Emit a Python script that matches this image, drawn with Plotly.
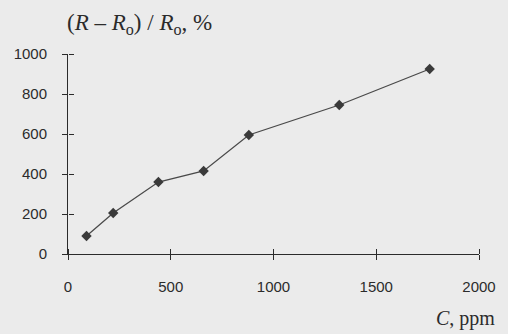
import plotly.graph_objects as go

conc_ppm = [90, 220, 440, 660, 880, 1320, 1760]
response_pct = [90, 205, 360, 415, 595, 745, 925]
x_ticks = [0, 500, 1000, 1500, 2000]
y_ticks = [0, 200, 400, 600, 800, 1000]

ink = "#2b2b2b"
bg = "#ebebeb"

fig = go.Figure()
fig.add_trace(go.Scatter(
    x=conc_ppm, y=response_pct, mode="lines+markers",
    line=dict(color="#4a4a4a", width=1.3),
    marker=dict(symbol="diamond", size=8, color="#3a3a3a"),
    showlegend=False, hoverinfo="skip"))
fig.add_trace(go.Scatter(x=conc_ppm, y=response_pct, xaxis="x2", yaxis="y2",
                         mode="markers", marker=dict(opacity=0),
                         showlegend=False, hoverinfo="skip"))

tickfont = dict(family="Liberation Sans, Arial", size=15, color=ink)
fig.update_layout(
    width=508, height=334,
    margin=dict(l=68, r=19, t=54, b=80),
    paper_bgcolor=bg, plot_bgcolor=bg,
    xaxis=dict(range=[0, 2000], tickvals=x_ticks, ticks="outside", ticklen=5,
               tickcolor=ink, showline=True, linecolor=ink, linewidth=1,
               showgrid=False, zeroline=False, tickfont=tickfont,
               ticklabelstandoff=14),
    yaxis=dict(range=[0, 1000], tickvals=y_ticks, ticks="outside", ticklen=5,
               tickcolor=ink, showline=True, linecolor=ink, linewidth=1,
               showgrid=False, zeroline=False, tickfont=tickfont,
               ticklabelstandoff=12),
    xaxis2=dict(range=[0, 2000], tickvals=x_ticks, ticks="outside", ticklen=5,
                tickcolor=ink, showticklabels=False, showgrid=False, showline=False,
                zeroline=False, overlaying="x", anchor="free", position=0, side="top"),
    yaxis2=dict(range=[0, 1000], tickvals=y_ticks, ticks="outside", ticklen=5,
                tickcolor=ink, showticklabels=False, showgrid=False, showline=False,
                zeroline=False, overlaying="y", anchor="free", position=0, side="right"),
    annotations=[
        dict(text="(<i>R</i> – <i>R</i><sub>o</sub>) / <i>R</i><sub>o</sub>, %",
             xref="paper", yref="paper", x=0.175, y=1.0, yshift=30,
             xanchor="center", yanchor="middle", showarrow=False,
             font=dict(family="Liberation Serif, Times New Roman", size=23, color=ink)),
        dict(text="<i>C</i>, ppm", xref="paper", yref="paper", x=1.0, y=0,
             xshift=18, yshift=-64, xanchor="right", yanchor="middle", showarrow=False,
             font=dict(family="Liberation Serif, Times New Roman", size=20, color=ink)),
    ],
)
fig.write_html("out.html", config={"displayModeBar": False},
               post_script="document.body.style.margin='0';document.body.style.background='%s';" % bg)
